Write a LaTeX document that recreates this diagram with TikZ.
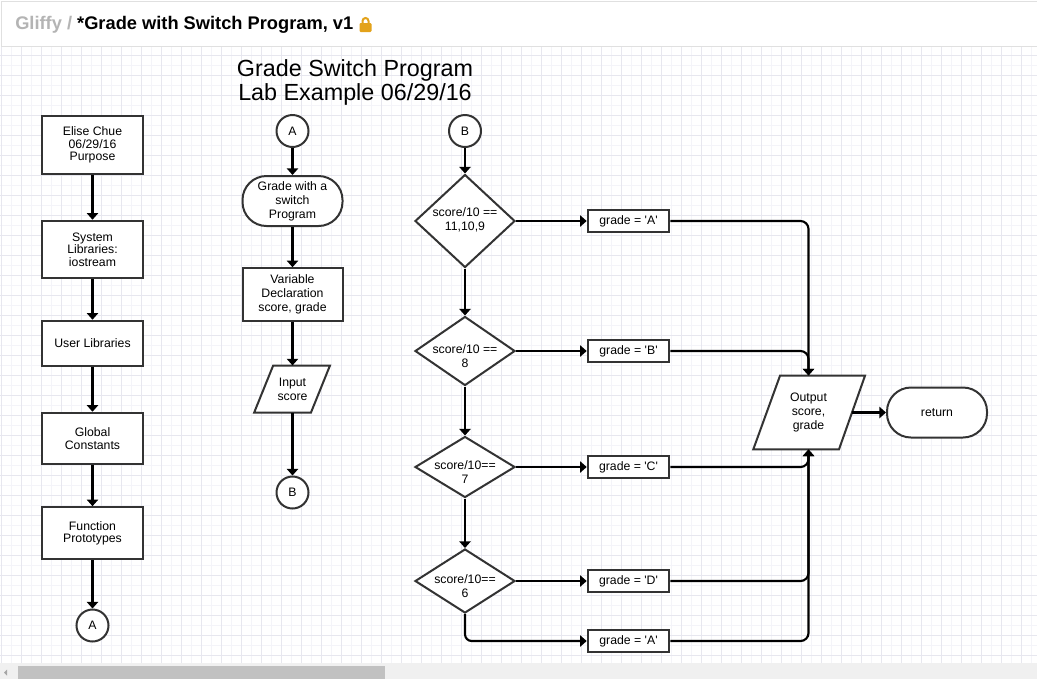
\documentclass[tikz,border=0pt]{standalone}
\usepackage{fontspec}
\setmainfont{Liberation Sans}
\usetikzlibrary{arrows.meta,shapes.geometric,calc}
\definecolor{gridmin}{HTML}{F4F4F9}
\definecolor{gridmaj}{HTML}{E7E7EF}
\definecolor{edge}{HTML}{333333}
\definecolor{hdrgray}{HTML}{B4B4B4}
\definecolor{hdrline}{HTML}{E0E0E0}
\definecolor{lockc}{HTML}{E3A21A}
\definecolor{sbbg}{HTML}{F0F0F0}
\definecolor{sbthumb}{HTML}{C1C1C1}
\newcommand\dtext[2]{\raisebox{-#1}[0pt][0pt]{\begin{tabular}{@{}c@{}}#2\end{tabular}}}
\newcommand\sq{\textquotesingle}
\begin{document}
\begin{tikzpicture}[x=0.75pt,y=-0.75pt,
  every node/.style={font=\fontsize{9.2}{10.5}\selectfont, text=black},
  shapebase/.style={draw=edge, line width=1.5pt, fill=white, inner sep=0pt, align=center},
  lbox/.style={shapebase, rectangle, minimum width=101*0.75pt, font=\fontsize{9.2}{9.4}\selectfont},
  pbox/.style={shapebase, rectangle},
  term/.style={shapebase, rectangle, rounded corners=18pt, minimum width=100*0.75pt, minimum height=50*0.75pt},
  conn/.style={shapebase, circle, minimum size=32*0.75pt},
  dec/.style={shapebase, diamond, aspect=2, minimum width=100*0.75pt},
  gbox/.style={shapebase, rectangle, minimum width=81.6*0.75pt, minimum height=22.7*0.75pt},
  io/.style={rectangle, inner sep=0pt, align=center},
  flow/.style={draw=black, line width=1.6pt, -{Triangle[width=8.5pt,length=5pt]}},
]
\useasboundingbox (0,0) rectangle (1037,679);
\fill[white] (0,0) rectangle (1037,679);
% grid
\begin{scope}
\clip (0,47) rectangle (1037,663);
\draw[gridmin, line width=0.75pt] foreach \i in {0,...,51} {(11.7+20*\i,47) -- (11.7+20*\i,663)};
\draw[gridmin, line width=0.75pt] foreach \i in {0,...,31} {(0,45+20*\i) -- (1037,45+20*\i)};
\draw[gridmaj, line width=0.75pt] foreach \i in {0,...,51} {(1.7+20*\i,47) -- (1.7+20*\i,663)};
\draw[gridmaj, line width=0.75pt] foreach \i in {0,...,31} {(0,55+20*\i) -- (1037,55+20*\i)};
\end{scope}
% header
\draw[draw=hdrline, line width=0.75pt, fill=white] (1,1) rectangle (1040,46);
\node[anchor=base west, inner sep=0pt, font=\fontsize{13.7}{16}\selectfont\bfseries] (hdr) at (15,29) {\textcolor{hdrgray}{Gliffy /} *Grade with Switch Program, v1};
\fill[lockc, rounded corners=0.8pt] (359.5,23) rectangle (371.5,32);
\draw[lockc, line width=1.5pt] (362.5,23.5) -- (362.5,21) arc (180:360:3) -- (368.5,23.5);
% scrollbar
\fill[sbbg] (0,663) rectangle (1037,679);
\fill[sbthumb] (18,666) rectangle (385,679);
\fill[gray!70] (7,669.5) -- (4,672.5) -- (7,675.5) -- cycle;
% title
\node[align=center, font=\fontsize{17.5}{18}\selectfont] (title) at (355,82) {Grade Switch Program\\Lab Example 06/29/16};
% left column
\node[lbox, minimum height=58*0.75pt] (b1) at (92.5,145) {Elise Chue\\06/29/16\\Purpose};
\node[lbox, minimum height=57.6*0.75pt] (b2) at (92.5,249.5) {System\\Libraries:\\iostream};
\node[lbox, minimum height=45*0.75pt] (b3) at (92.5,343.2) {User Libraries};
\node[lbox, minimum height=51.3*0.75pt] (b4) at (92.5,438.4) {Global\\Constants};
\node[lbox, minimum height=52*0.75pt] (b5) at (92.5,533.2) {Function\\Prototypes};
\node[conn] (ca1) at (92.5,625.5) {A};
\draw[flow] (b1.south) -- (b2.north);
\draw[flow] (b2.south) -- (b3.north);
\draw[flow] (b3.south) -- (b4.north);
\draw[flow] (b4.south) -- (b5.north);
\draw[flow] (b5.south) -- (ca1.north);
% middle column
\node[conn] (ca2) at (292.5,131) {A};
\node[term] (t1) at (292.5,201) {Grade with a\\switch\\Program};
\node[pbox, minimum width=100*0.75pt, minimum height=52.5*0.75pt] (vd) at (292.5,294.5) {Variable\\Declaration\\score, grade};
\coordinate (inpc) at (292.5,389.2);
\draw[shapebase] ($(inpc)+(-19.4,-23.5)$) -- ($(inpc)+(37.4,-23.5)$) -- ($(inpc)+(18.4,23.5)$) -- ($(inpc)+(-38.4,23.5)$) -- cycle;
\node[io, minimum width=56.5*0.75pt, minimum height=47*0.75pt] (inp) at (inpc) {Input\\score};
\node[conn] (cb1) at (292.5,492.5) {B};
\draw[flow] (ca2.south) -- (t1.north);
\draw[flow] (t1.south) -- (vd.north);
\draw[flow] (vd.south) -- (inp.north);
\draw[flow] (inp.south) -- (cb1.north);
% right column
\node[conn] (cb2) at (465,131) {B};
\node[dec, minimum height=93*0.75pt] (d1) at (465,221) {\dtext{2.25pt}{score/10 ==\\11,10,9}};
\node[dec, minimum height=69*0.75pt] (d2) at (465,351) {\dtext{7.5pt}{score/10 ==\\8}};
\node[dec, minimum height=61*0.75pt] (d3) at (465,467) {\dtext{7.5pt}{score/10==\\7}};
\node[dec, minimum height=64*0.75pt] (d4) at (465,581) {\dtext{7.5pt}{score/10==\\6}};
\node[gbox] (ga) at (628.5,221) {grade = \sq A\sq};
\node[gbox] (gb) at (628.5,351) {grade = \sq B\sq};
\node[gbox] (gc) at (628.5,467) {grade = \sq C\sq};
\node[gbox] (gd) at (628.5,581) {grade = \sq D\sq};
\node[gbox] (ge) at (628.5,641) {grade = \sq A\sq};
\draw[flow] (cb2.south) -- (d1.north);
\draw[flow] (d1.south) -- (d2.north);
\draw[flow] (d2.south) -- (d3.north);
\draw[flow] (d3.south) -- (d4.north);
\draw[flow] (d1.east) -- (ga.west);
\draw[flow] (d2.east) -- (gb.west);
\draw[flow] (d3.east) -- (gc.west);
\draw[flow] (d4.east) -- (gd.west);
\draw[flow, rounded corners=5pt] (d4.south) |- (ge.west);
% output
\coordinate (outc) at (808.5,412.5);
\draw[shapebase] ($(outc)+(-28.5,-36.8)$) -- ($(outc)+(56.5,-36.8)$) -- ($(outc)+(30.5,36.8)$) -- ($(outc)+(-55.2,36.8)$) -- cycle;
\node[io, minimum width=85.5*0.75pt, minimum height=73.6*0.75pt] (out) at (outc) {Output\\score,\\grade};
\node[term] (ret) at (937,412.5) {return};
\draw[flow, rounded corners=6pt] (ga.east) -| (out.north);
\draw[flow, rounded corners=6pt] (gb.east) -| (out.north);
\draw[flow, rounded corners=6pt] (gc.east) -| (out.south);
\draw[flow, rounded corners=6pt] (gd.east) -| (out.south);
\draw[flow, rounded corners=6pt] (ge.east) -| (out.south);
\draw[flow] (out.east) -- (ret.west);
\end{tikzpicture}
\end{document}
